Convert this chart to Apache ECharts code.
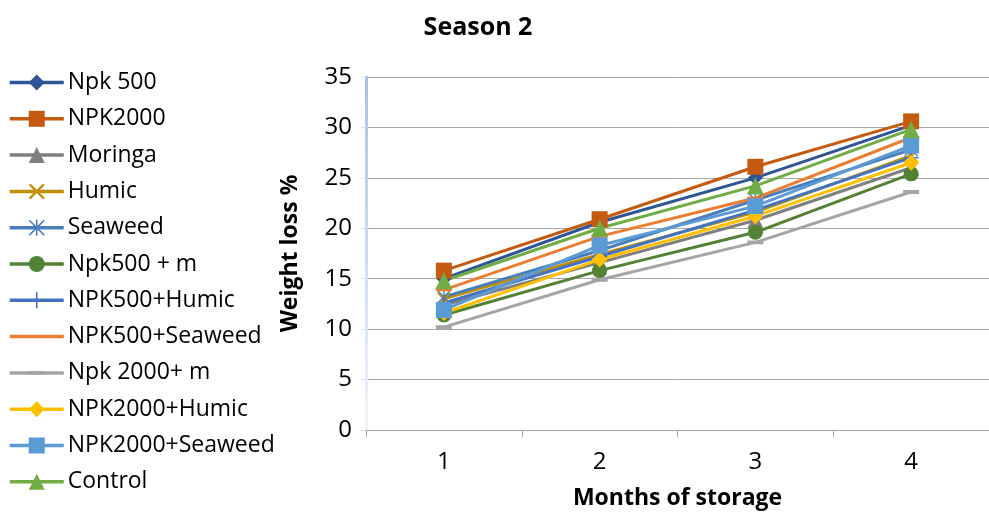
<!DOCTYPE html>
<html>
<head>
<meta charset="utf-8">
<script src="https://cdn.jsdelivr.net/npm/echarts@6/dist/echarts.min.js"></script>
<style>
  html, body { margin: 0; padding: 0; background: #fff; }
  #chart { width: 989px; height: 515px; }
</style>
</head>
<body>
<div id="chart"></div>
<script>
// Months of storage (x categories)
const months = ['1', '2', '3', '4'];

// Weight loss % per treatment, months 1-4
const npk500          = [15.0, 20.6, 25.0, 30.2];
const npk2000         = [15.8, 20.9, 26.1, 30.6];
const moringa         = [12.4, 16.6, 20.8, 26.0];
const humic           = [13.0, 17.4, 21.6, 27.2];
const seaweed         = [13.2, 17.8, 22.8, 27.8];
const npk500M         = [11.4, 15.8, 19.6, 25.4];
const npk500Humic     = [12.6, 17.2, 21.8, 27.0];
const npk500Seaweed   = [13.9, 19.2, 23.0, 29.0];
const npk2000M        = [10.2, 14.9, 18.6, 23.6];
const npk2000Humic    = [11.6, 16.9, 21.2, 26.5];
const npk2000Seaweed  = [11.9, 18.3, 22.2, 28.2];
const control         = [14.8, 20.0, 24.2, 29.8];

// Y axis ticks
const yTicks = [0, 5, 10, 15, 20, 25, 30, 35];

// Marker shapes (all drawn inside a square 10x10 box so they scale evenly)
const BOX = ' M0,0 H0.01 V0.01 H0 Z M9.99,9.99 H10 V10 H9.99 Z';
const X_PATH = 'path://M0,1 L1,0 L5,4 L9,0 L10,1 L6,5 L10,9 L9,10 L5,6 L1,10 L0,9 L4,5 Z';
const PLUS_PATH = 'path://M4.5,0 H5.5 V4.5 H10 V5.5 H5.5 V10 H4.5 V5.5 H0 V4.5 H4.5 Z';
const STAR_PATH = 'path://M0.7,0 L5,4.3 L9.3,0 L10,0.7 L5.7,5 L10,9.3 L9.3,10 L5,5.7 L0.7,10 L0,9.3 L4.3,5 L0,0.7 Z M4.5,0 H5.5 V10 H4.5 Z';
const DASH_THIN = 'path://M0,4.1 H10 V5.9 H0 Z' + BOX;
const DASH_THICK = 'path://M0,3.8 H10 V6.2 H0 Z' + BOX;

const seriesDefs = [
  { name: 'Npk 500',         data: npk500,         color: '#2F5597', symbol: 'diamond',  size: 15 },
  { name: 'NPK2000',         data: npk2000,        color: '#C55A11', symbol: 'rect',     size: 16 },
  { name: 'Moringa',         data: moringa,        color: '#7F7F7F', symbol: 'triangle', size: 16 },
  { name: 'Humic',           data: humic,          color: '#BF9000', symbol: X_PATH,     size: 14 },
  { name: 'Seaweed',         data: seaweed,        color: '#4A7EBB', symbol: STAR_PATH,  size: 14 },
  { name: 'Npk500 + m',      data: npk500M,        color: '#548235', symbol: 'circle',   size: 15 },
  { name: 'NPK500+Humic',    data: npk500Humic,    color: '#4472C4', symbol: PLUS_PATH,  size: 15 },
  { name: 'NPK500+Seaweed',  data: npk500Seaweed,  color: '#ED7D31', symbol: DASH_THIN,  size: 16 },
  { name: 'Npk 2000+ m',     data: npk2000M,       color: '#A5A5A5', symbol: DASH_THICK, size: 16 },
  { name: 'NPK2000+Humic',   data: npk2000Humic,   color: '#FFC000', symbol: 'diamond',  size: 16 },
  { name: 'NPK2000+Seaweed', data: npk2000Seaweed, color: '#5B9BD5', symbol: 'rect',     size: 16 },
  { name: 'Control',         data: control,        color: '#70AD47', symbol: 'triangle', size: 17 }
];

const FONT = '"Open Sans", Lato, sans-serif';

const chart = echarts.init(document.getElementById('chart'), null, { renderer: 'canvas' });

chart.setOption({
  animation: false,
  backgroundColor: '#ffffff',
  title: {
    text: 'Season 2',
    left: 478,
    top: 15,
    padding: 0,
    textAlign: 'center',
    textStyle: { fontFamily: FONT, fontSize: 25, fontWeight: 'bold', color: '#000' }
  },
  legend: {
    orient: 'vertical',
    left: 8,
    top: 71,
    padding: 0,
    itemWidth: 54,
    itemHeight: 20,
    itemGap: 13.3,
    symbolKeepAspect: true,
    lineStyle: { width: 3.5 },
    textStyle: { fontFamily: FONT, fontSize: 23, color: '#000', lineHeight: 23, padding: [0, 0, 0, -1] },
    data: seriesDefs.map(s => s.name)
  },
  grid: { left: 366, right: -9, top: 77, bottom: 85, containLabel: false },
  xAxis: {
    type: 'category',
    data: months,
    boundaryGap: true,
    name: 'Months of storage',
    nameLocation: 'middle',
    nameGap: 57,
    nameTextStyle: { fontFamily: FONT, fontSize: 23, fontWeight: 'bold', color: '#000' },
    axisLine: { lineStyle: { color: '#A6A6A6', width: 1 } },
    axisTick: { show: true, length: 7, lineStyle: { color: '#A6A6A6' } },
    axisLabel: { fontFamily: FONT, fontSize: 24, color: '#000', margin: 20 },
    splitLine: { show: false }
  },
  yAxis: {
    type: 'value',
    min: 0,
    max: 35,
    interval: 5,
    name: 'Weight loss %',
    nameLocation: 'middle',
    nameGap: 64,
    nameTextStyle: { fontFamily: FONT, fontSize: 23, fontWeight: 'bold', color: '#000' },
    axisLine: {
      show: true,
      lineStyle: {
        width: 3,
        color: {
          type: 'linear', global: true, x: 0, y: 77, x2: 0, y2: 430,
          colorStops: [{ offset: 0, color: '#A9C1E8' }, { offset: 1, color: '#F2F6FC' }]
        }
      }
    },
    axisTick: { show: true, inside: false, length: 5, lineStyle: { color: '#D6E1F3' } },
    axisLabel: {
      fontFamily: FONT, fontSize: 24, color: '#000', margin: 14,
      formatter: v => (yTicks.indexOf(v) >= 0 ? String(v) : '')
    },
    splitLine: { show: true, lineStyle: { color: '#A6A6A6', width: 1 } }
  },
  series: seriesDefs.map(s => ({
    name: s.name,
    type: 'line',
    data: s.data,
    symbol: s.symbol,
    symbolSize: s.size,
    symbolKeepAspect: true,
    showAllSymbol: true,
    lineStyle: { color: s.color, width: 3 },
    itemStyle: { color: s.color, borderWidth: 0 },
    emphasis: { disabled: true }
  }))
});
</script>
</body>
</html>
